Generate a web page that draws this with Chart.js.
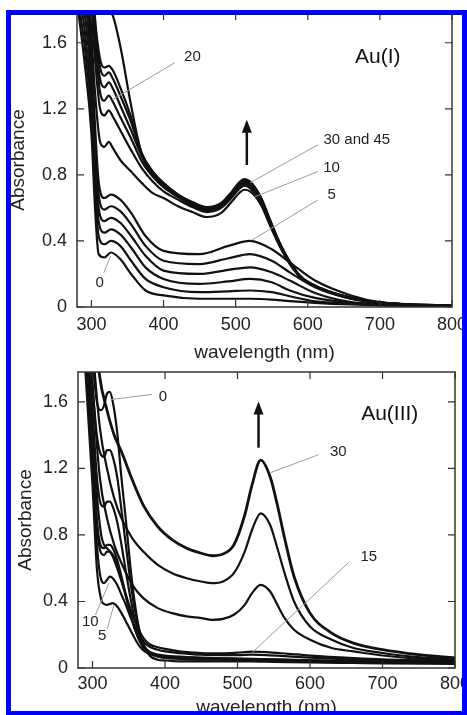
<!DOCTYPE html>
<html>
<head>
<meta charset="utf-8">
<script src="https://cdn.jsdelivr.net/npm/chart.js@4.4.0/dist/chart.umd.min.js"></script>
<style>
  html, body { margin: 0; padding: 0; background: #fff; }
  body { width: 467px; height: 715px; position: relative; overflow: hidden; }
  canvas { position: absolute; left: 0; }
  #frame { position: absolute; left: 6px; top: 10px; width: 461px; height: 706px;
           border: 5px solid #0000ff; box-sizing: border-box; z-index: 5; pointer-events: none; }
</style>
</head>
<body>
<canvas id="au1" width="467" height="364" style="top:0"></canvas>
<canvas id="au3" width="467" height="355" style="top:364px"></canvas>
<div id="frame"></div>
<script>
// ---- Au(I) panel: early spectra (0..5) ----
const wlAu1Low = [280, 290, 300, 305, 310, 318, 327, 340, 355, 375, 400, 450, 490, 520, 550, 575, 610, 660, 700, 800];
const au1_0 = [1.85, 1.5, 1.05, 0.6, 0.32, 0.30, 0.33, 0.29, 0.20, 0.10, 0.07, 0.05, 0.05, 0.05, 0.045, 0.035, 0.025, 0.015, 0.01, 0.005];
const au1_1 = [1.9, 1.6, 1.15, 0.72, 0.43, 0.38, 0.40, 0.37, 0.28, 0.17, 0.12, 0.09, 0.095, 0.10, 0.09, 0.065, 0.035, 0.02, 0.012, 0.006];
const au1_2 = [1.95, 1.7, 1.25, 0.82, 0.52, 0.45, 0.47, 0.44, 0.36, 0.24, 0.17, 0.14, 0.155, 0.17, 0.15, 0.10, 0.055, 0.025, 0.015, 0.007];
const au1_3 = [2.0, 1.8, 1.35, 0.92, 0.60, 0.52, 0.54, 0.51, 0.43, 0.31, 0.22, 0.20, 0.225, 0.24, 0.21, 0.16, 0.085, 0.03, 0.02, 0.008];
const au1_4 = [2.05, 1.9, 1.45, 1.0, 0.68, 0.59, 0.61, 0.58, 0.50, 0.37, 0.28, 0.26, 0.295, 0.32, 0.28, 0.21, 0.12, 0.05, 0.025, 0.009];
const au1_5 = [2.1, 2.0, 1.55, 1.1, 0.76, 0.66, 0.68, 0.65, 0.57, 0.43, 0.34, 0.32, 0.37, 0.40, 0.35, 0.27, 0.16, 0.07, 0.03, 0.01];

// ---- Au(I) panel: later spectra (10..45) ----
const wlAu1High = [280, 295, 305, 312, 318, 324, 330, 340, 355, 370, 385, 400, 420, 440, 460, 480, 495, 505, 512, 520, 535, 548, 562, 575, 590, 612, 635, 660, 700, 750, 800];
const au1_10 = [2.6, 2.0, 1.3, 1.0, 0.97, 1.0, 0.96, 0.89, 0.82, 0.75, 0.69, 0.66, 0.61, 0.575, 0.545, 0.57, 0.64, 0.69, 0.71, 0.70, 0.62, 0.49, 0.36, 0.26, 0.18, 0.12, 0.08, 0.05, 0.025, 0.012, 0.006];
const au1_15 = [2.7, 2.1, 1.5, 1.2, 1.16, 1.19, 1.15, 1.07, 0.95, 0.84, 0.76, 0.70, 0.65, 0.605, 0.575, 0.60, 0.665, 0.715, 0.735, 0.72, 0.64, 0.50, 0.365, 0.265, 0.18, 0.12, 0.083, 0.054, 0.026, 0.012, 0.006];
const au1_20 = [2.8, 2.2, 1.6, 1.3, 1.25, 1.28, 1.24, 1.15, 1.02, 0.88, 0.79, 0.725, 0.665, 0.615, 0.585, 0.61, 0.675, 0.725, 0.745, 0.73, 0.645, 0.505, 0.37, 0.268, 0.182, 0.122, 0.084, 0.055, 0.026, 0.012, 0.006];
const au1_25 = [2.85, 2.3, 1.65, 1.38, 1.33, 1.36, 1.32, 1.22, 1.07, 0.91, 0.81, 0.74, 0.675, 0.625, 0.59, 0.615, 0.68, 0.735, 0.755, 0.74, 0.65, 0.51, 0.372, 0.27, 0.183, 0.123, 0.085, 0.055, 0.026, 0.012, 0.006];
const au1_30 = [2.9, 2.4, 1.7, 1.45, 1.40, 1.42, 1.38, 1.28, 1.12, 0.92, 0.82, 0.75, 0.68, 0.63, 0.595, 0.62, 0.69, 0.745, 0.765, 0.75, 0.655, 0.515, 0.375, 0.272, 0.184, 0.124, 0.085, 0.056, 0.026, 0.012, 0.006];
const au1_35 = [3.0, 2.5, 1.75, 1.50, 1.45, 1.46, 1.43, 1.33, 1.15, 0.93, 0.82, 0.75, 0.68, 0.63, 0.60, 0.625, 0.695, 0.75, 0.77, 0.755, 0.66, 0.52, 0.378, 0.274, 0.185, 0.125, 0.086, 0.056, 0.026, 0.012, 0.006];
const au1_45 = [3.2, 2.8, 2.2, 1.95, 1.85, 1.80, 1.76, 1.58, 1.22, 0.92, 0.80, 0.74, 0.68, 0.635, 0.605, 0.63, 0.70, 0.755, 0.775, 0.76, 0.665, 0.525, 0.38, 0.275, 0.186, 0.125, 0.086, 0.056, 0.026, 0.012, 0.006];

// ---- Au(III) panel: UV band spectra ----
const wlAu3 = [280, 290, 300, 306, 312, 316, 320, 324, 328, 334, 340, 346, 352, 358, 365, 372, 380, 390, 400, 420, 450, 480, 500, 520, 540, 570, 600, 660, 700, 800];
const au3_0 = [2.8, 2.3, 1.85, 1.6, 1.55, 1.58, 1.65, 1.66, 1.6, 1.42, 1.14, 0.89, 0.62, 0.40, 0.22, 0.12, 0.07, 0.05, 0.045, 0.04, 0.04, 0.04, 0.04, 0.04, 0.038, 0.035, 0.033, 0.03, 0.028, 0.025];
const au3_1 = [2.7, 2.2, 1.7, 1.4, 1.28, 1.27, 1.31, 1.31, 1.27, 1.15, 0.95, 0.74, 0.53, 0.36, 0.22, 0.13, 0.09, 0.07, 0.06, 0.055, 0.05, 0.05, 0.05, 0.048, 0.046, 0.043, 0.04, 0.035, 0.032, 0.028];
const au3_2 = [2.6, 2.1, 1.55, 1.15, 0.98, 0.97, 1.0, 1.0, 0.97, 0.88, 0.74, 0.58, 0.43, 0.30, 0.19, 0.12, 0.085, 0.07, 0.065, 0.06, 0.055, 0.052, 0.05, 0.05, 0.048, 0.045, 0.042, 0.037, 0.034, 0.03];
const au3_3 = [2.5, 2.0, 1.4, 0.9, 0.73, 0.72, 0.74, 0.74, 0.72, 0.65, 0.55, 0.44, 0.33, 0.24, 0.16, 0.11, 0.085, 0.072, 0.067, 0.062, 0.058, 0.055, 0.053, 0.052, 0.05, 0.047, 0.044, 0.039, 0.036, 0.031];
const au3_4 = [2.45, 1.95, 1.35, 0.86, 0.69, 0.68, 0.70, 0.70, 0.68, 0.62, 0.53, 0.43, 0.33, 0.24, 0.17, 0.12, 0.095, 0.08, 0.075, 0.068, 0.062, 0.058, 0.056, 0.055, 0.053, 0.05, 0.046, 0.04, 0.037, 0.032];
const au3_5 = [2.3, 1.8, 1.1, 0.6, 0.41, 0.385, 0.38, 0.385, 0.39, 0.37, 0.33, 0.28, 0.23, 0.18, 0.13, 0.10, 0.085, 0.075, 0.07, 0.065, 0.06, 0.057, 0.055, 0.054, 0.052, 0.048, 0.045, 0.04, 0.036, 0.032];
const au3_10 = [2.4, 1.9, 1.25, 0.75, 0.53, 0.51, 0.53, 0.55, 0.54, 0.50, 0.44, 0.38, 0.31, 0.25, 0.19, 0.15, 0.125, 0.11, 0.10, 0.09, 0.08, 0.078, 0.078, 0.08, 0.078, 0.07, 0.062, 0.05, 0.045, 0.038];
const au3_15 = [2.5, 2.0, 1.5, 1.05, 0.80, 0.74, 0.72, 0.70, 0.67, 0.60, 0.52, 0.44, 0.36, 0.29, 0.22, 0.17, 0.14, 0.125, 0.115, 0.10, 0.09, 0.088, 0.092, 0.098, 0.095, 0.085, 0.075, 0.06, 0.052, 0.042];

// ---- Au(III) panel: plasmon band spectra ----
const wlAu3Np = [280, 290, 300, 310, 320, 330, 340, 355, 370, 390, 410, 430, 450, 465, 480, 495, 510, 520, 532, 545, 555, 565, 578, 600, 630, 660, 700, 750, 800];
const au3_20 = [3.0, 2.4, 1.7, 1.15, 0.90, 0.74, 0.63, 0.50, 0.42, 0.36, 0.33, 0.31, 0.30, 0.29, 0.295, 0.32, 0.38, 0.45, 0.50, 0.46, 0.38, 0.30, 0.23, 0.17, 0.12, 0.10, 0.075, 0.055, 0.045];
const au3_25 = [3.2, 2.6, 1.95, 1.45, 1.2, 1.02, 0.90, 0.78, 0.70, 0.62, 0.57, 0.54, 0.52, 0.51, 0.52, 0.57, 0.70, 0.83, 0.93, 0.86, 0.72, 0.57, 0.40, 0.25, 0.17, 0.12, 0.09, 0.065, 0.05];
const au3_30 = [3.4, 2.8, 2.2, 1.75, 1.55, 1.40, 1.30, 1.13, 0.98, 0.85, 0.77, 0.72, 0.69, 0.675, 0.685, 0.74, 0.92, 1.10, 1.25, 1.15, 0.98, 0.78, 0.55, 0.33, 0.21, 0.15, 0.11, 0.08, 0.06];

const xTicks = [300, 400, 500, 600, 700, 800];
const yTicks = [0, 0.4, 0.8, 1.2, 1.6];

Chart.defaults.font.family = "'Liberation Sans', Arial, sans-serif";
Chart.defaults.color = '#222';

function line(wl, vals, w) {
  return {
    data: wl.map((x, i) => ({x: x, y: vals[i]})),
    borderColor: '#111',
    borderWidth: w || 2.2,
    pointRadius: 0,
    cubicInterpolationMode: 'monotone',
    fill: false
  };
}

// frame, inward ticks, leader labels, arrow and panel name
const sketchPlugin = {
  id: 'sketch',
  afterDatasetsDraw(chart, args, opts) {
    const ctx = chart.ctx, a = chart.chartArea;
    const x = chart.scales.x, y = chart.scales.y;
    const px = v => x.getPixelForValue(v), py = v => y.getPixelForValue(v);
    ctx.save();
    ctx.strokeStyle = '#333';
    ctx.lineWidth = 1.5;
    ctx.strokeRect(a.left, a.top, a.right - a.left, a.bottom - a.top);
    ctx.lineWidth = 1.2;
    ctx.beginPath();
    xTicks.forEach(v => {
      ctx.moveTo(px(v), a.bottom); ctx.lineTo(px(v), a.bottom - 7);
      ctx.moveTo(px(v), a.top); ctx.lineTo(px(v), a.top + 7);
    });
    yTicks.forEach(v => {
      ctx.moveTo(a.left, py(v)); ctx.lineTo(a.left + 7, py(v));
      ctx.moveTo(a.right, py(v)); ctx.lineTo(a.right - 7, py(v));
    });
    ctx.stroke();

    ctx.textAlign = 'center';
    ctx.textBaseline = 'middle';
    (opts.notes || []).forEach(n => {
      ctx.strokeStyle = '#9a9a9a';
      ctx.lineWidth = 1;
      ctx.beginPath();
      ctx.moveTo(px(n.from[0]), py(n.from[1]));
      ctx.lineTo(px(n.to[0]), py(n.to[1]));
      ctx.stroke();
      ctx.fillStyle = '#222';
      ctx.font = "15px 'Liberation Sans', Arial, sans-serif";
      ctx.fillText(n.text, px(n.at[0]), py(n.at[1]));
    });

    const ar = opts.arrow;
    if (ar) {
      const ax = px(ar.x), y0 = py(ar.y0), y1 = py(ar.y1);
      ctx.strokeStyle = '#111';
      ctx.fillStyle = '#111';
      ctx.lineWidth = 2.5;
      ctx.beginPath(); ctx.moveTo(ax, y0); ctx.lineTo(ax, y1 + 10); ctx.stroke();
      ctx.beginPath(); ctx.moveTo(ax, y1); ctx.lineTo(ax - 5, y1 + 13); ctx.lineTo(ax + 5, y1 + 13); ctx.closePath(); ctx.fill();
    }
    if (opts.name) {
      ctx.fillStyle = '#111';
      ctx.font = "21px 'Liberation Sans', Arial, sans-serif";
      ctx.fillText(opts.name.text, px(opts.name.at[0]), py(opts.name.at[1]));
    }
    ctx.restore();
  }
};

function build(id, datasets, geo, sketch) {
  return new Chart(document.getElementById(id), {
    type: 'line',
    data: {datasets: datasets},
    plugins: [sketchPlugin],
    options: {
      responsive: false,
      animation: false,
      events: [],
      layout: {padding: {left: 0, right: geo.right, top: geo.top, bottom: 0}},
      plugins: {legend: {display: false}, tooltip: {enabled: false}, sketch: sketch},
      scales: {
        x: {
          type: 'linear', min: 280, max: 800,
          grid: {display: false, drawTicks: false}, border: {display: false},
          afterBuildTicks: s => { s.ticks = xTicks.map(v => ({value: v})); },
          ticks: {padding: geo.xPad, maxRotation: 0, autoSkip: false, font: {size: 18}, color: '#222'},
          title: {display: true, text: 'wavelength (nm)', font: {size: 19}, color: '#222', padding: {top: 0, bottom: 0}},
          afterFit: s => { s.height = geo.xH; s.paddingLeft = 0; s.paddingRight = 0; }
        },
        y: {
          min: 0, max: 1.78,
          grid: {display: false, drawTicks: false}, border: {display: false},
          afterBuildTicks: s => { s.ticks = yTicks.map(v => ({value: v})); },
          ticks: {padding: 10, font: {size: 18}, color: '#222',
                  callback: v => v === 0 ? '0' : v.toFixed(1)},
          title: {display: true, text: 'Absorbance', font: {size: 19}, color: '#222', padding: {top: geo.yTitle, bottom: 0}},
          afterFit: s => { s.width = geo.yW; s.paddingTop = 0; s.paddingBottom = 0; }
        }
      }
    }
  });
}

build('au1', [
  line(wlAu1Low, au1_0), line(wlAu1Low, au1_1), line(wlAu1Low, au1_2),
  line(wlAu1Low, au1_3), line(wlAu1Low, au1_4), line(wlAu1Low, au1_5),
  line(wlAu1High, au1_10), line(wlAu1High, au1_15), line(wlAu1High, au1_20),
  line(wlAu1High, au1_25), line(wlAu1High, au1_30), line(wlAu1High, au1_35),
  line(wlAu1High, au1_45)
], {right: 15, top: 13, xH: 57, yW: 77, xPad: 7, yTitle: 7.6}, {
  notes: [
    {text: '20', at: [440, 1.515], from: [416, 1.48], to: [329, 1.255]},
    {text: '30 and 45', at: [668, 1.012], from: [614, 0.982], to: [520, 0.752]},
    {text: '10', at: [633, 0.842], from: [614, 0.82], to: [527, 0.668]},
    {text: '5', at: [633, 0.679], from: [614, 0.648], to: [523, 0.406]},
    {text: '0', at: [311.5, 0.145], from: [317, 0.206], to: [326.7, 0.309]}
  ],
  arrow: {x: 515.5, y0: 0.86, y1: 1.133},
  name: {text: 'Au(I)', at: [697, 1.515]}
});

build('au3', [
  line(wlAu3, au3_0), line(wlAu3, au3_1), line(wlAu3, au3_2), line(wlAu3, au3_3),
  line(wlAu3, au3_4), line(wlAu3, au3_5), line(wlAu3, au3_10), line(wlAu3, au3_15),
  line(wlAu3Np, au3_20), line(wlAu3Np, au3_25), line(wlAu3Np, au3_30, 2.8)
], {right: 12, top: 8, xH: 51, yW: 78, xPad: 5, yTitle: 14}, {
  notes: [
    {text: '0', at: [397, 1.633], from: [382, 1.645], to: [325, 1.614]},
    {text: '30', at: [639, 1.301], from: [612, 1.283], to: [546, 1.175]},
    {text: '15', at: [681, 0.669], from: [653, 0.633], to: [521, 0.096]},
    {text: '10', at: [297, 0.277], from: [304, 0.319], to: [322.6, 0.51]},
    {text: '5', at: [313.5, 0.193], from: [320.4, 0.235], to: [329.6, 0.38]}
  ],
  arrow: {x: 529, y0: 1.325, y1: 1.602},
  name: {text: 'Au(III)', at: [710, 1.524]}
});
</script>
</body>
</html>
